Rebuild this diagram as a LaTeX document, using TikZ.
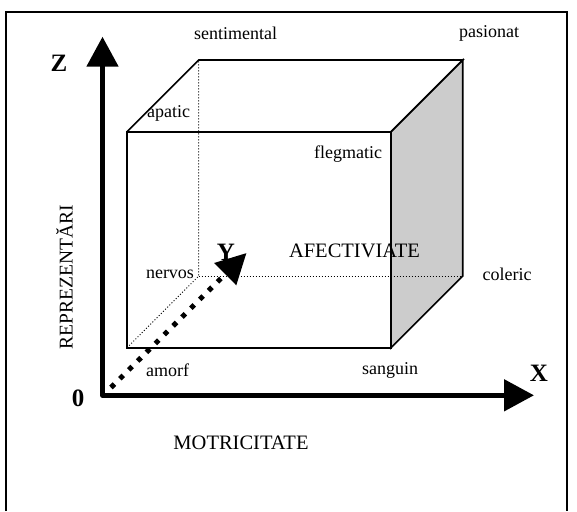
\documentclass[tikz,border=0pt]{standalone}
\usepackage{fontspec}
\setmainfont{Liberation Serif}
\usetikzlibrary{arrows.meta}
\tikzset{
  lab/.style={font=\fontsize{18}{20}\selectfont, inner sep=0pt},
  biglab/.style={font=\fontsize{20.5}{23}\selectfont, inner sep=0pt},
  axlab/.style={font=\fontsize{25}{28}\selectfont\bfseries, inner sep=0pt},
  edge/.style={line width=1.6pt, line join=miter},
  hidden/.style={line width=1pt, dotted},
  axis/.style={line width=5pt, line join=round}
}
\begin{document}
\begin{tikzpicture}[x=1pt,y=-1pt]
\useasboundingbox (0,0) rectangle (577,511);
\draw[line width=1.2pt] (6,511) |- (567,12) -- (567,511);
% cube corners: f = front face, b = back face
\foreach \i/\x/\y in {1/127/347.7,2/391/347.7,3/391/131.7,4/127/131.7}{
  \coordinate (f\i) at (\x,\y);
  \coordinate (b\i) at (\x+71.7,\y-71.7);
}
\filldraw[edge, fill=gray!40] (f2) -- (b2) -- (b3) -- (f3) -- cycle;
\draw[edge] (f1) rectangle (f3);
\draw[edge] (f4) -- (b4) -- (b3) -- (f3);
\draw[hidden] (f1) -- (b1) -- (b4);
\draw[hidden] (b1) -- (b2);
% corner labels
\foreach \nm/\x/\y in {sentimental/235.5/33,pasionat/489/33,apatic/168.5/113,
  flegmatic/348/154,nervos/170/274,coleric/507/274,amorf/167.5/370,sanguin/390/370}{
  \node[lab] (\nm) at (\x,\y) {\nm};
}
\node[biglab] (afect) at (354.5,251) {AFECTIVIATE};
\node[biglab] (motr) at (241,443) {MOTRICITATE};
\node[biglab, font=\fontsize{19.5}{22}\selectfont, rotate=90] (repr) at (64.4,277) {REPREZENTĂRI};
% axes
\coordinate (O) at (102.5,395.3);
\coordinate (Ztip) at (102.5,36.7);
\coordinate (Xtip) at (534,395.3);
\draw[axis, {Triangle[length=30pt,width=31pt]}-{Triangle[length=30pt,width=31pt]}] (Ztip) -- (O) -- (Xtip);
\node[axlab] (zl) at (59,63) {Z};
\node[axlab] (xl) at (539,373) {X};
\node[axlab] (ol) at (78,398) {0};
\node[axlab] (yl) at (226,252) {Y};
\coordinate (Ystart) at (111,387.5);
\coordinate (Ytip) at (246.5,253);
\draw[line width=5pt, dash pattern=on 4.8pt off 7.7pt, -{Triangle[length=30pt,width=30pt]}] (Ystart) -- (Ytip);
\end{tikzpicture}
\end{document}
